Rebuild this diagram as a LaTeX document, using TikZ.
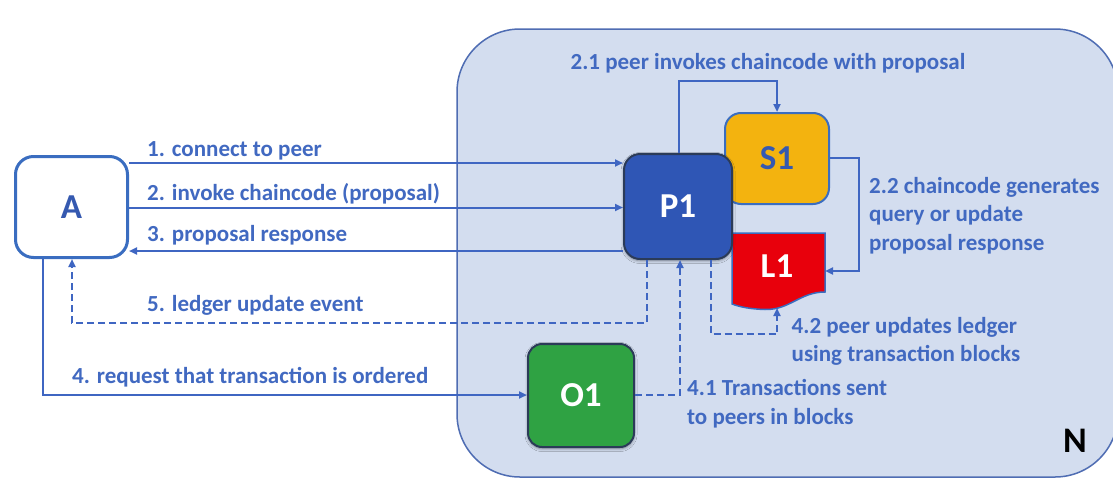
\documentclass[tikz,border=0pt]{standalone}
\usepackage{fontspec}
\setmainfont{Carlito}
\usetikzlibrary{arrows.meta,shadows.blur}
\definecolor{lnblue}{HTML}{3F66C2}
\definecolor{txblue}{HTML}{4169C1}
\definecolor{bigblue}{HTML}{3559B0}
\definecolor{netbg}{HTML}{D3DDEF}
\definecolor{netedge}{HTML}{4F6DB3}
\definecolor{peerblue}{HTML}{2F56B5}
\definecolor{darkedge}{HTML}{2B3B58}
\definecolor{scgold}{HTML}{F3B30F}
\definecolor{ledgerred}{HTML}{E8000C}
\definecolor{ordgreen}{HTML}{2FA243}
\definecolor{boxedge}{HTML}{3A6DC0}
\begin{document}
\begin{tikzpicture}[x=1pt,y=-1pt,
  lbl/.style={font=\fontsize{23}{28}\selectfont\bfseries, text=txblue, inner sep=0pt},
  conn/.style={draw=lnblue, line width=2pt},
  arr/.style={conn, -{Triangle[length=8pt,width=7pt]}},
  darr/.style={conn, dash pattern=on 7pt off 4pt, -{Triangle[length=8pt,width=7pt]}},
  dline/.style={conn, dash pattern=on 7pt off 4pt},
  big/.style={font=\fontsize{35}{40}\selectfont\bfseries},
  card/.style={rounded corners=16pt, big},
  glow/.style={blur shadow={shadow xshift=0pt, shadow yshift=-1.5pt, shadow blur radius=3pt, shadow opacity=45}},
]
\useasboundingbox (0,0) rectangle (1113,479);
\fill[white] (0,0) rectangle (1113,479);

% network container
\node[draw=netedge, fill=netbg, line width=1.5pt, rounded corners=63pt,
      minimum width=661pt, minimum height=448pt, inner sep=0pt] (net) at (787.5,253) {};
\node[font=\fontsize{36}{40}\selectfont\bfseries, text=black] (Nlbl) at (1075,441) {N};

% application
\node[card, draw=boxedge, line width=3pt, fill=white, rounded corners=18pt, text=bigblue,
      minimum width=112pt, minimum height=101pt] (A) at (71.5,207) {A};

% ledger (document shape)
\draw[draw=boxedge, line width=1.5pt, fill=ledgerred]
  (732,233) -- (825,233) -- (825,292)
  .. controls (800,292) and (790,310) .. (765,309.5)
  .. controls (750,309) and (740,307) .. (732,304) -- cycle;
\node[big, text=white, minimum width=96pt, minimum height=84pt, inner sep=0pt, outer sep=0pt] (L1) at (777,266) {L1};

% smart contract, peer, orderer
\node[card, draw=boxedge, line width=2pt, fill=scgold, text=bigblue,
      minimum width=104pt, minimum height=91pt] (S1) at (777,158.5) {S1};
\node[card, glow, draw=darkedge, line width=2pt, fill=peerblue, text=white,
      minimum width=108pt, minimum height=105pt] (P1) at (678,206.5) {P1};
\node[card, glow, draw=darkedge, line width=2pt, fill=ordgreen, text=white, rounded corners=14pt,
      minimum width=106pt, minimum height=103pt] (O1) at (581,395.5) {O1};

% routing coordinates
\coordinate (h1) at (0,163);
\coordinate (h2) at (0,207.5);
\coordinate (h3) at (0,251);
\coordinate (h4) at (0,395);
\coordinate (h5) at (0,323);
\coordinate (h21) at (0,81);
\coordinate (h22a) at (0,157.5);
\coordinate (h22b) at (0,271);
\coordinate (h42) at (0,334);
\coordinate (va4) at (43,0);
\coordinate (va5) at (72,0);
\coordinate (v5) at (647,0);
\coordinate (v21) at (679,0);
\coordinate (v41) at (680,0);
\coordinate (v42) at (710.5,0);
\coordinate (v22) at (859,0);

% connectors
\draw[arr] (A.east |- h1) -- (P1.west |- h1);
\draw[arr] (A.east |- h2) -- (P1.west |- h2);
\draw[arr] (P1.west |- h3) -- (A.east |- h3);
\draw[darr] (P1.south -| v5) -- (v5 |- h5) -- (va5 |- h5) -- (A.south -| va5);
\draw[arr] (A.south -| va4) -- (va4 |- h4) -- (O1.west |- h4);
\draw[darr] (O1.east |- h4) -- (v41 |- h4) -- (P1.south -| v41);
\draw[darr] (P1.south -| v42) -- (v42 |- h42) -- (L1.south |- h42) -- (L1.south);
\draw[arr] (P1.north -| v21) -- (v21 |- h21) -- (S1.north |- h21) -- (S1.north);
\draw[arr] (S1.east |- h22a) -- (v22 |- h22a) -- (v22 |- h22b) -- (L1.east |- h22b);

% labels
\node[lbl, anchor=base west] (t1) at (147,156) {1. connect to peer};
\node[lbl, anchor=base west] (t2) at (147,200.5) {2. invoke chaincode (proposal)};
\node[lbl, anchor=base west] (t3) at (147,241.5) {3. proposal response};
\node[lbl, anchor=base west] (t5) at (147,311.5) {5. ledger update event};
\node[lbl, anchor=base west] (t4) at (72,383) {4. request that transaction is ordered};
\node[lbl, anchor=base] (t21) at (768,69) {2.1 peer invokes chaincode with proposal};
\node[lbl, anchor=base west] (t22a) at (869,193) {2.2 chaincode generates};
\node[lbl, anchor=base west] (t22b) at (869,221.5) {query or update};
\node[lbl, anchor=base west] (t22c) at (869,250) {proposal response};
\node[lbl, anchor=base west] (t41a) at (687,395) {4.1 Transactions sent};
\node[lbl, anchor=base west] (t41b) at (687,424) {to peers in blocks};
\node[lbl, anchor=base west] (t42a) at (791.5,333) {4.2 peer updates ledger};
\node[lbl, anchor=base west] (t42b) at (791.5,361) {using transaction blocks};
\end{tikzpicture}
\end{document}
